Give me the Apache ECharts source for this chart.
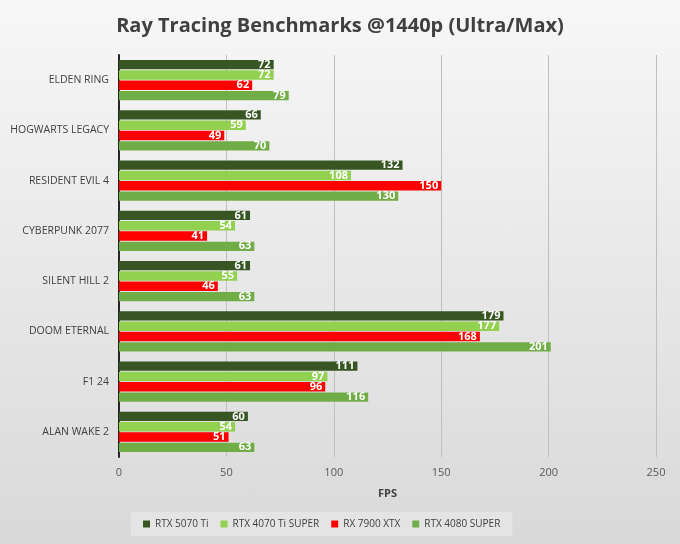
<!DOCTYPE html>
<html>
<head>
<meta charset="utf-8">
<style>
  html, body { margin: 0; padding: 0; }
  #main { width: 680px; height: 544px; background: linear-gradient(#f7f7f7, #d9d9d9); }
</style>
<script src="https://cdn.jsdelivr.net/npm/echarts@6/dist/echarts.min.js"></script>
</head>
<body>
<div id="main"></div>
<script>
// games, top to bottom
var games = ['ELDEN RING', 'HOGWARTS LEGACY', 'RESIDENT EVIL 4', 'CYBERPUNK 2077', 'SILENT HILL 2', 'DOOM ETERNAL', 'F1 24', 'ALAN WAKE 2']
var seriesNames = ['RTX 5070 Ti', 'RTX 4070 Ti SUPER', 'RX 7900 XTX', 'RTX 4080 SUPER']
var rtx5070ti = [72, 66, 132, 61, 61, 179, 111, 60]
var rtx4070tiSuper = [72, 59, 108, 54, 55, 177, 97, 54]
var rx7900xtx = [62, 49, 150, 41, 46, 168, 96, 51]
var rtx4080Super = [79, 70, 130, 63, 63, 201, 116, 63]
var xTicks = [0, 50, 100, 150, 200, 250]

var colors = ['#375623', '#92d050', '#ff0000', '#70ad47']
var values = [rtx5070ti, rtx4070tiSuper, rx7900xtx, rtx4080Super]

var myChart = echarts.init(document.getElementById('main'))

function setSeries () {
  let series = []
  seriesNames.forEach(function (name, index) {
    series.push({
      name: name,
      type: 'bar',
      data: values[index],
      barGap: '10%',
      barCategoryGap: '20%',
      itemStyle: { color: colors[index] },
      label: {
        show: true,
        position: 'insideRight',
        distance: 3,
        color: '#fff',
        fontWeight: 'bold',
        fontSize: 11,
        fontFamily: 'Open Sans'
      }
    })
  })
  return series
}

myChart.setOption({
  backgroundColor: 'transparent',
  color: colors,
  title: {
    text: 'Ray Tracing Benchmarks @1440p (Ultra/Max)',
    left: 'center',
    top: 11,
    textStyle: {
      color: '#404040',
      fontSize: 20,
      fontWeight: 'bold',
      fontFamily: 'Open Sans'
    }
  },
  legend: {
    data: seriesNames,
    bottom: 8,
    left: 131,
    icon: 'rect',
    itemWidth: 7,
    itemHeight: 7,
    itemGap: 12,
    padding: [7, 12],
    backgroundColor: '#e4e4e4',
    textStyle: { color: '#404040', fontSize: 10, fontFamily: 'Open Sans' }
  },
  grid: {
    left: 119,
    right: 24,
    top: 55,
    bottom: 87
  },
  xAxis: {
    type: 'value',
    min: xTicks[0],
    max: xTicks[xTicks.length - 1],
    interval: 50,
    name: 'FPS',
    nameLocation: 'middle',
    nameGap: 31,
    nameTextStyle: { color: '#404040', fontSize: 11, fontWeight: 'bold', fontFamily: 'Open Sans' },
    axisLine: { show: false },
    axisTick: { show: false },
    axisLabel: { color: '#595959', fontSize: 11, margin: 10, fontFamily: 'Open Sans' },
    splitLine: { lineStyle: { color: '#bfbfbf' } }
  },
  yAxis: {
    type: 'category',
    data: games,
    inverse: true,
    axisLine: { show: true, lineStyle: { color: '#262626', width: 2 } },
    axisTick: { show: false },
    axisLabel: { color: '#404040', fontSize: 10.5, margin: 10, fontFamily: 'Open Sans' }
  },
  series: setSeries()
})
</script>
</body>
</html>
